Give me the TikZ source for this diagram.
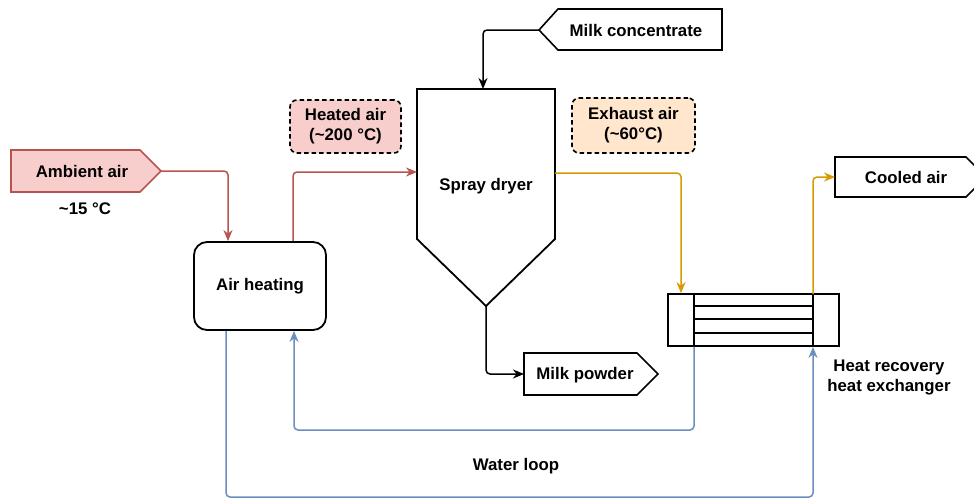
\documentclass[tikz,border=0pt]{standalone}
\usepackage{fontspec}
\setmainfont{Liberation Sans}
\usetikzlibrary{arrows.meta,calc}

\definecolor{airred}{HTML}{B85450}
\definecolor{airpink}{HTML}{F8CECC}
\definecolor{exorange}{HTML}{D79B00}
\definecolor{expeach}{HTML}{FFE6CC}
\definecolor{waterblue}{HTML}{6C8EBF}

\tikzset{
  lbl/.style={font=\fontsize{16.8}{20}\selectfont\bfseries, align=center, inner sep=0pt},
  outline/.style={draw=black, line width=1.8pt, line join=miter},
  flow/.style={line width=1.5pt, rounded corners=4pt,
    -{Stealth[length=11pt,width=9pt,inset=3.5pt]}},
  tagbox/.style={draw=black, line width=1.6pt, dash pattern=on 4.5pt off 3pt,
    rounded corners=7pt},
}

\begin{document}
\begin{tikzpicture}[x=1pt,y=-1pt]
\useasboundingbox (0,0) rectangle (974,499);

% ---- inlet: ambient air ----
\draw[outline, draw=airred, fill=airpink, line width=1.6pt]
  (11,150) -- (140,150) -- (161,171) -- (140,192) -- (11,192) -- cycle;
\node[lbl] (amb) at (82,171) {Ambient air};
\coordinate (ambtip) at (161,171);
\node[lbl] (ambT) at (85,209) {\textasciitilde15 °C};

% ---- air heater ----
\node[outline, rounded corners=13pt, minimum width=132pt, minimum height=88pt,
      lbl, inner sep=0pt] (heat) at (260,286) {Air heating};

% ---- spray dryer (cylinder with conical bottom) ----
\coordinate (sdTL) at (417,89);
\coordinate (sdTR) at (555,89);
\coordinate (sdBR) at (555,239);
\coordinate (sdBL) at (417,239);
\coordinate (sdApex) at (486,306);
\draw[outline] (sdTL) -- (sdTR) -- (sdBR) -- (sdApex) -- (sdBL) -- cycle;
\node[lbl] (dryer) at (486,186) {Spray dryer};
\coordinate (sdIn) at (483,89);
\coordinate (sdAir) at (417,172);
\coordinate (sdEx) at (555,173);

% ---- feed: milk concentrate ----
\draw[outline, line width=1.6pt]
  (539,30) -- (558,9) -- (722,9) -- (722,50) -- (558,50) -- cycle;
\node[lbl] (conc) at (636,30) {Milk concentrate};
\coordinate (conctip) at (539,30);

% ---- product: milk powder ----
\draw[outline, line width=1.6pt]
  (524,353) -- (637,353) -- (658,374) -- (637,395) -- (524,395) -- cycle;
\node[lbl] (powder) at (585,375) {Milk powder};
\coordinate (powderIn) at (524,374);

% ---- stream tags ----
\node[tagbox, fill=airpink, minimum width=111pt, minimum height=53pt,
      lbl, inner sep=0pt] (hot) at (345.5,126.5) {Heated air\\(\textasciitilde200 °C)};
\node[tagbox, fill=expeach, minimum width=123pt, minimum height=55pt,
      lbl, inner sep=0pt] (exh) at (633.5,125.5) {Exhaust air\\(\textasciitilde60°C)};

% ---- heat recovery heat exchanger ----
\node[outline, line width=1.7pt, minimum width=171pt, minimum height=52pt,
      inner sep=0pt] (hx) at (753.5,320) {};
\coordinate (hxL) at (694,294);
\coordinate (hxR) at (813,294);
\draw[outline, line width=1.7pt] (hxL) -- (hxL |- hx.south);
\draw[outline, line width=1.7pt] (hxR) -- (hxR |- hx.south);
\foreach \yy in {306,319,333}
  \draw[outline, line width=1.5pt] (694,\yy) -- (813,\yy);
\node[lbl] (hxlbl) at (889,377) {Heat recovery\\heat exchanger};

% ---- outlet: cooled air ----
\draw[outline, line width=1.6pt]
  (835,157) -- (966,157) -- (986,177) -- (966,197) -- (835,197) -- cycle;
\node[lbl] (cool) at (906,177) {Cooled air};
\coordinate (coolIn) at (835,177);

% ---- air side connectors ----
\draw[flow, draw=airred]
  (ambtip) -- (228,171) -- (heat.north -| 228,0);
\draw[flow, draw=airred]
  (heat.north -| 293,0) -- (293,172) -- (sdAir);
\draw[flow, draw=exorange]
  (sdEx) -- (681,173) -- (hx.north -| 681,0);
\draw[flow, draw=exorange]
  (hxR) -- (813,177) -- (coolIn);

% ---- product side connectors ----
\draw[flow, draw=black] (conctip) -- (483,30) -- (sdIn);
\draw[flow, draw=black] (sdApex) -- (486,374) -- (powderIn);

% ---- water loop ----
\draw[flow, draw=waterblue]
  (hxL |- hx.south) -- (694,430) -- (294,430) -- (heat.south -| 294,0);
\draw[flow, draw=waterblue]
  (heat.south -| 226,0) -- (226,497) -- (813,497) -- (hxR |- hx.south);
\node[lbl] (loop) at (516,466) {Water loop};
\end{tikzpicture}
\end{document}
